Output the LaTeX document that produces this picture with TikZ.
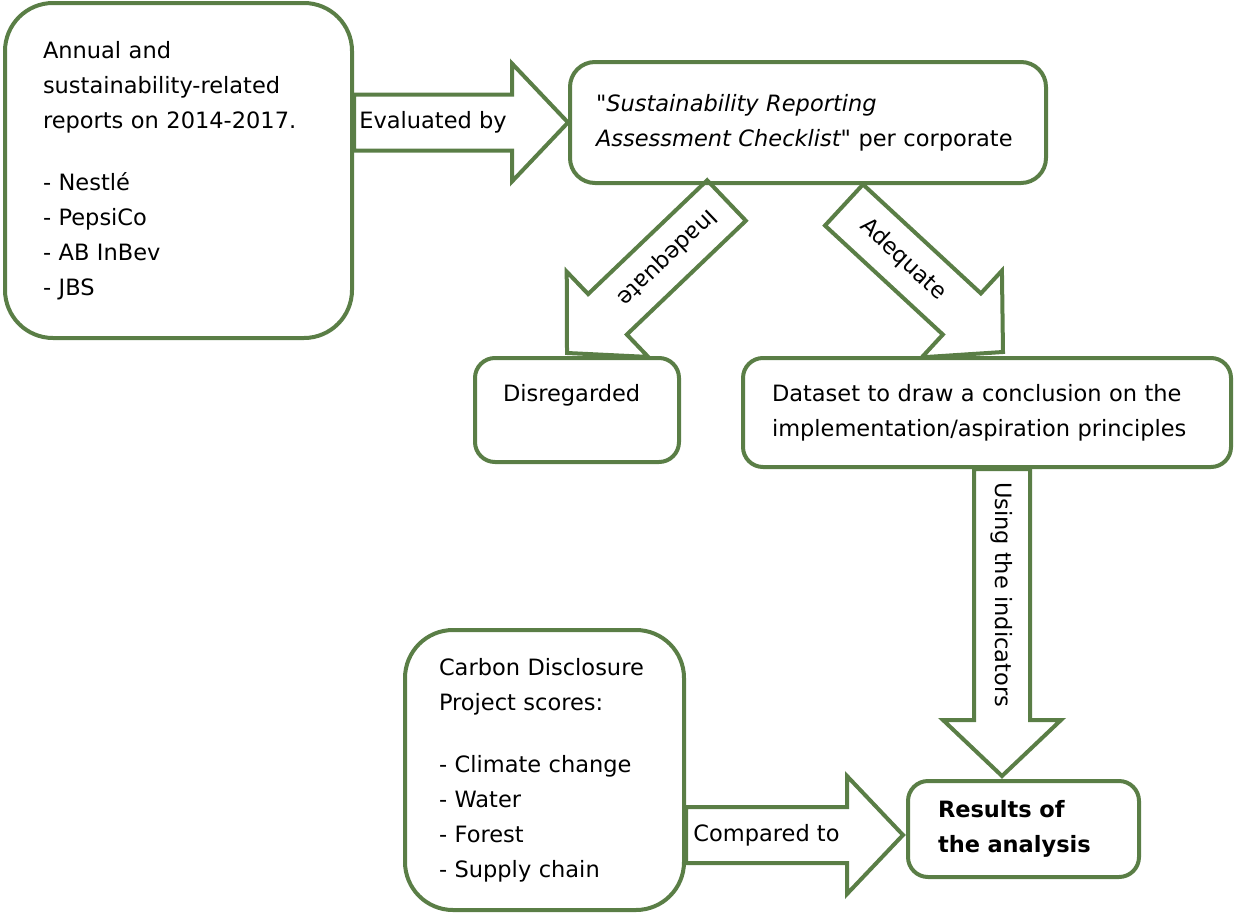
\documentclass[tikz,border=0pt]{standalone}
\usepackage{fontspec}
\setmainfont{DejaVu Sans}
\usepackage{tikz}
\usetikzlibrary{calc}
\definecolor{leaf}{RGB}{90,126,70}
\newcommand{\boxfont}{\fontsize{22.5}{35}\selectfont}
\tikzstyle{block} = [draw=leaf, line width=4pt, align=left, font=\boxfont]
\tikzstyle{fatline} = [draw=leaf, line width=4pt, line join=miter]
\newcommand{\fatarrow}[3]{%
  \draw[fatline] let \p1=#1, \p2=#2,
      \n1={atan2(\y2-\y1,\x2-\x1)}, \n2={veclen(\x2-\x1,\y2-\y1)} in
      [shift={(\p1)}, rotate=\n1]
      (0,28) -- ({\n2-56},28) -- ({\n2-56},59) -- ({\n2},0)
      -- ({\n2-56},-59) -- ({\n2-56},-28) -- (0,-28) -- cycle
      node[transform shape, font=\boxfont] at ({(\n2-56)/2},0) {#3};}

\begin{document}
\begin{tikzpicture}[x=1pt, y=1pt]
      \useasboundingbox (0,0) rectangle (1234,-913);

      \node (reports) at (178.5,-170.5) [block, rounded corners=48pt, text width=271pt, inner xsep=38pt, minimum height=335pt]
        {Annual and\\ sustainability-related\\ reports on 2014-2017.\\[27pt] - Nestlé\\ - PepsiCo\\ - AB InBev\\ - JBS};
      \node (checklist) at (808,-122.5) [block, rounded corners=25pt, text width=424pt, inner xsep=26pt, minimum height=121pt]
        {{\itshape \textquotedbl Sustainability Reporting\\ Assessment Checklist\textquotedbl} per corporate};
      \node (disregarded) at (577,-410) [block, rounded corners=20pt, text width=148pt, inner xsep=28pt, minimum height=104pt]
        {Disregarded\\ \mbox{}};
      \node (dataset) at (987,-412.5) [block, rounded corners=20pt, text width=430pt, inner xsep=29pt, minimum height=109pt]
        {Dataset to draw a conclusion on the\\ implementation/aspiration principles};
      \node (carbon) at (544.5,-770) [block, rounded corners=48pt, text width=211pt, inner xsep=34pt, minimum height=280pt]
        {Carbon Disclosure\\ Project scores:\\[27pt] - Climate change\\ - Water\\ - Forest\\ - Supply chain};
      \node (results) at (1023.5,-829) [block, rounded corners=20pt, text width=171pt, inner xsep=30pt, minimum height=96pt]
        {\bfseries Results of\\ the analysis};

      \coordinate (inadtail) at ($(checklist.south)+(-81.5,-15.5)$);
      \coordinate (inadtip) at ($(disregarded.north)+(-10,3)$);
      \coordinate (adeqtail) at ($(checklist.south)+(36,-20)$);
      \coordinate (adeqtip) at ($(dataset.north)+(16,4)$);
      \coordinate (usetip) at ($(results.north)+(-21.5,3)$);
      \coordinate (cmptip) at ($(results.west)+(-3,-6)$);

      \fatarrow{(reports.east |- checklist.west)}{(checklist.west)}{Evaluated by}
      \fatarrow{(inadtail)}{(inadtip)}{Inadequate}
      \fatarrow{(adeqtail)}{(adeqtip)}{Adequate}
      \fatarrow{(dataset.south -| usetip)}{(usetip)}{Using the indicators}
      \fatarrow{(carbon.east |- cmptip)}{(cmptip)}{Compared to}
    \end{tikzpicture}
\end{document}
